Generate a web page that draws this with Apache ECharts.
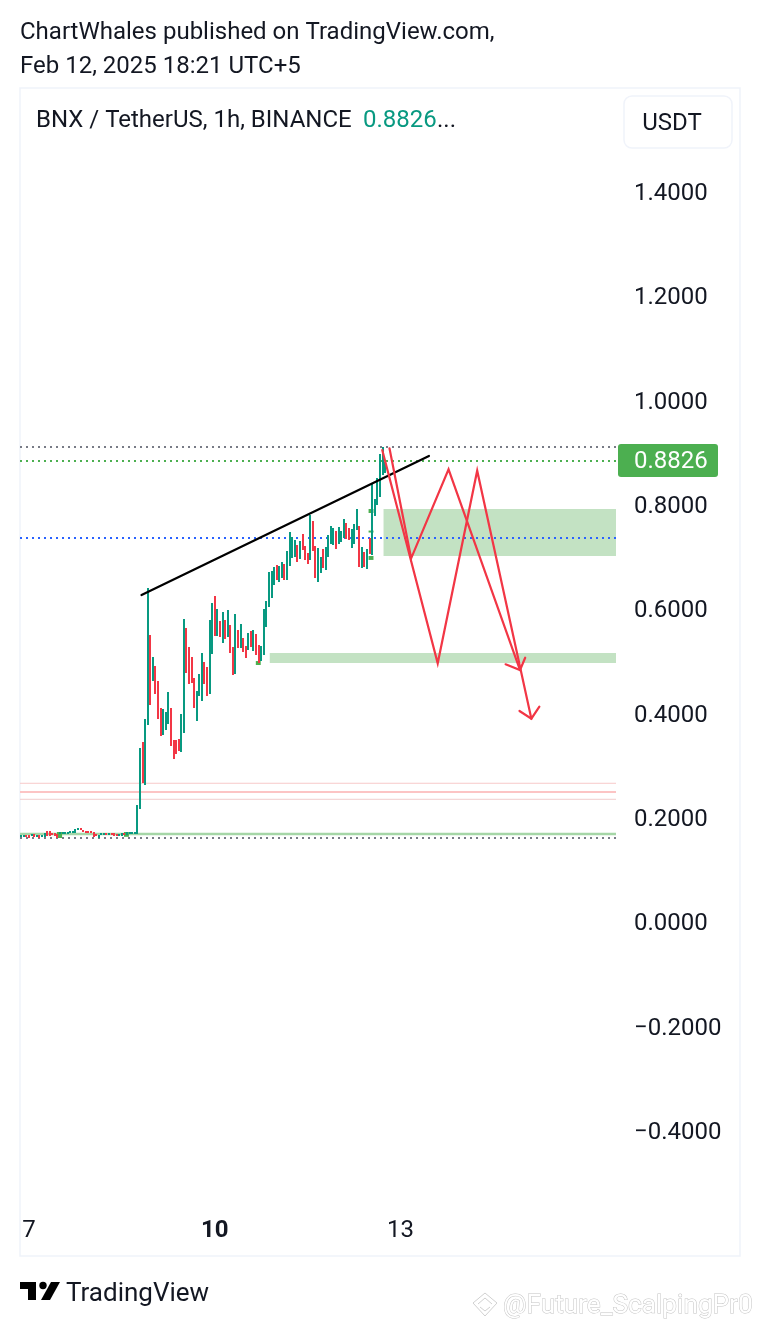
<!DOCTYPE html>
<html><head><meta charset="utf-8">
<style>html,body{margin:0;padding:0;background:#fff}#c{width:760px;height:1326px}</style>
<script src="https://cdn.jsdelivr.net/npm/echarts@6/dist/echarts.min.js"></script>
</head><body><div id="c"></div>
<script>
const barSlots = 231;
const xTickLabels = {3:'7', 75:'10', 147:'13'};
const boldTicks = ['10'];
const opens = [
.1637,.1637,.1675,.1675,.1656,.1694,.1637,.1675,.1656,.1637,
.1752,.1752,.1713,.1713,.1694,.1694,.1694,.1694,.1694,.1713,
.1713,.1713,.1771,.1809,.1771,.1752,.1752,.1752,.1732,.1694,
.1617,.1675,.1675,.1713,.1675,.1713,.1713,.1694,.1656,.1656,
.1713,.1675,.1694,.1694,.1694,.1694,.2173,.3457,.2633,.3770,
.5508,.4613,.4914,.4626,.4108,.3591,.3687,.3802,.4108,.3495,
.3495,.3514,.3265,.3629,.5642,.5278,.5086,.4684,.3859,.4339,
.4243,.4990,.4894,.4377,.5144,.6256,.5489,.5776,.5355,.5795,
.5470,.5700,.5278,.4760,.5604,.5259,.5450,.5297,.5220,.5585,
.5201,.5527,.5316,.5010,.5125,.5661,.6045,.6217,.6466,.6850,
.6524,.6601,.6869,.6562,.6831,.6984,.7003,.7233,.6965,.7444,
.7214,.7080,.6946,.7693,.7214,.6524,.6696,.7156,.6754,.7003,
.7252,.7233,.7502,.7252,.7291,.7367,.7655,.7559,.7176,.7252,
.7521,.7597,.6792,.7099,.6773,.7367,.7042,.7789,.8000,.8153,
.8575,.8614];
const closes = [
.1675,.1675,.1637,.1617,.1694,.1637,.1675,.1617,.1675,.1713,
.1656,.1656,.1675,.1656,.1617,.1732,.1732,.1732,.1732,.1752,
.1752,.1790,.1809,.1771,.1732,.1713,.1713,.1713,.1637,.1656,
.1675,.1713,.1713,.1675,.1713,.1675,.1656,.1656,.1694,.1713,
.1675,.1732,.1732,.1732,.1732,.2250,.3342,.2672,.3898,.6403,
.4166,.5080,.4377,.3898,.3572,.4089,.4032,.4415,.3380,.3131,
.3227,.3284,.3994,.5815,.4779,.4569,.4588,.4108,.4434,.4760,
.5163,.4569,.4339,.5795,.6121,.5489,.6006,.5470,.5949,.5431,
.5987,.5163,.4741,.5910,.5259,.5719,.5182,.5067,.5546,.5278,
.5604,.5125,.4965,.5297,.6006,.6160,.6716,.6735,.6811,.6562,
.6831,.6907,.6562,.7118,.7482,.7387,.7329,.6907,.7310,.7137,
.6946,.6869,.7808,.7118,.6601,.7176,.7003,.6792,.7195,.7425,
.7597,.7559,.7156,.7578,.7502,.7732,.7348,.7329,.7540,.7636,
.7923,.6811,.7195,.6811,.7156,.7061,.8422,.8115,.8518,.8978,
.9112,.8826];
const trendLine = [[47.1,.6275],[158.5,.8939]];
const redPathA = [[140.4,.9054],[161.9,.4966],[177.2,.8658],[198.2,.3904]];
const redHeadA = [[193.6,.4052],[198.2,.3904],[201.3,.4134]];
const redPathB = [[143.2,.9087],[151.6,.6978],[166.1,.8684],[193.8,.4837]];
const redHeadB = [[188.2,.4947],[193.8,.4837],[195.8,.5073]];
const zones = [[140.9,231,.7923,.7023],[96.8,231,.5163,.4972]];
const markers = [[14.3,16.3,.1732,.1617],[40.3,42.2,.1732,.1640],[91.4,93.3,.5009,.4933],[135.1,137,.7023,.6947],[135.1,137,.7923,.7847],[135.1,137,.7510,.7472]];
const dottedLevels = [[.9114,'#787b86'],[.8844,'#4caf50'],[.7368,'#2962ff'],[.1618,'#787b86']];
const solidLevels = [[.2666,'#f7c9c9',1],[.2499,'#fcc4c4',2],[.2359,'#f0cccc',1],[.1694,'#a5d6a7',2.5]];

const ink='#131722', up='#089981', down='#f23645', F='Roboto';
const categories = Array.from({length:barSlots},(_,i)=>String(i));
const candleRows = opens.map((o,i)=>[i,o,closes[i]]);
const lineSeries=(data,color,w,type)=>({type:'line',xAxisIndex:1,yAxisIndex:0,data,symbol:'none',silent:true,animation:false,
  lineStyle:{color,width:w,type:type||'solid',cap:'round',join:'miter'},z:5});
const levelLine=(p,color,w,type)=>({type:'line',xAxisIndex:1,yAxisIndex:0,data:[[0,p],[barSlots,p]],symbol:'none',silent:true,animation:false,
  lineStyle:{color,width:w,type:type||'solid'},z:2});
const chart=echarts.init(document.getElementById('c'),null,{renderer:'canvas'});
chart.setOption({
 animation:false,
 textStyle:{fontFamily:F},
 grid:{left:20,width:596,top:87.66,height:1147.7,containLabel:false},
 xAxis:[{type:'category',data:categories,offset:-16,
   axisLine:{show:false},axisTick:{show:false},splitLine:{show:false},
   axisLabel:{interval:(i)=>xTickLabels[i]!==undefined,margin:0,hideOverlap:false,showMinLabel:true,showMaxLabel:true,
     formatter:(v)=>{const t=xTickLabels[v]||'';if(!t)return '';return (boldTicks.includes(t)?'{b|':'{n|')+t+'}';},
     fontSize:24,color:ink,fontFamily:F,rich:{b:{fontWeight:'bold',fontSize:24,color:ink,fontFamily:F},n:{fontSize:24,color:ink,fontFamily:F}}}},
  {type:'value',min:0,max:barSlots,show:false}],
 yAxis:{type:'value',position:'right',min:-0.6,max:1.6,interval:0.2,scale:false,
   axisLine:{show:false},axisTick:{show:false},splitLine:{show:false},
   axisLabel:{showMinLabel:false,showMaxLabel:false,margin:18,fontSize:24,color:ink,fontFamily:F,
     formatter:(v)=>'{a|'+v.toFixed(4).replace('-','\u2212')+'}',
     rich:{a:{fontSize:24,color:ink,fontFamily:F,padding:[4,0,0,0]}}}},
 series:[
  ...solidLevels.map(l=>levelLine(l[0],l[1],l[2])),
  ...dottedLevels.map(l=>levelLine(l[0],l[1],2,[2,4])),
  {type:'custom',xAxisIndex:1,yAxisIndex:0,silent:true,z:1,data:zones,encode:{x:[0,1],y:[2,3]},
   renderItem:(p,api)=>{const a=api.coord([api.value(0),api.value(2)]),b=api.coord([api.value(1),api.value(3)]);
     return {type:'rect',shape:{x:a[0],y:a[1],width:b[0]-a[0],height:b[1]-a[1]},style:{fill:'#c3e2c3'}};}},
  {type:'custom',xAxisIndex:1,yAxisIndex:0,silent:true,z:3,data:markers,encode:{x:[0,1],y:[2,3]},
   renderItem:(p,api)=>{const a=api.coord([api.value(0),api.value(2)]),b=api.coord([api.value(1),api.value(3)]);
     return {type:'rect',shape:{x:a[0],y:a[1],width:b[0]-a[0],height:b[1]-a[1]},style:{fill:'#4caf50'}};}},
  {type:'custom',name:'BNX/USDT',xAxisIndex:0,yAxisIndex:0,silent:true,z:4,data:candleRows,encode:{x:0,y:[1,2]},
   renderItem:(p,api)=>{const o=api.value(1),c=api.value(2),a=api.coord([api.value(0),Math.max(o,c)]),b=api.coord([api.value(0),Math.min(o,c)]);
     return {type:'rect',shape:{x:Math.round(a[0]-1),y:Math.round(a[1]),width:2,height:Math.max(2,Math.round(b[1]-a[1]))},style:{fill:c>=o?up:down}};}},
  lineSeries(trendLine,'#000000',2.2),
  lineSeries(redPathA,down,2.2),lineSeries(redHeadA,down,2.2),
  lineSeries(redPathB,down,2.2),lineSeries(redHeadB,down,2.2)
 ],
 graphic:[
  {type:'rect',z:-1,shape:{x:20,y:88,width:720,height:1168},style:{fill:'none',stroke:'#f0f3fa',lineWidth:1.5}},
  {type:'text',x:20,y:33,style:{text:'ChartWhales published on TradingView.com,',fill:ink,font:'24px Roboto',verticalAlign:'middle'}},
  {type:'text',x:20,y:67,style:{text:'Feb 12, 2025 18:21 UTC+5',fill:ink,font:'24px Roboto',verticalAlign:'middle'}},
  {type:'text',x:36,y:121,style:{text:'BNX / TetherUS, 1h, BINANCE',fill:ink,font:'24px Roboto',verticalAlign:'middle'}},
  {type:'text',x:363,y:121,style:{text:'0.8826',fill:up,font:'24px Roboto',verticalAlign:'middle'}},
  {type:'text',x:437,y:121,style:{text:'...',fill:ink,font:'24px Roboto',verticalAlign:'middle'}},
  {type:'rect',shape:{x:624,y:96,width:108,height:52,r:8},style:{fill:'#fff',stroke:'#f0f3fa',lineWidth:1.5}},
  {type:'text',x:672,y:124,style:{text:'USDT',fill:ink,font:'24px Roboto',align:'center',verticalAlign:'middle'}},
  {type:'rect',shape:{x:618,y:444,width:100,height:33,r:3},style:{fill:'#4caf50'}},
  {type:'text',x:634,y:462,style:{text:'0.8826',fill:'#fff',font:'24px Roboto',verticalAlign:'middle'}},
  {type:'polygon',shape:{points:[[20,1282],[36,1282],[36,1300],[28,1300],[28,1289],[20,1289]]},style:{fill:'#000'}},
  {type:'circle',shape:{cx:43,cy:1285.5,r:3.7},style:{fill:'#000'}},
  {type:'polygon',shape:{points:[[51,1282],[60,1282],[50,1300],[41,1300]]},style:{fill:'#000'}},
  {type:'text',x:66,y:1294,style:{text:'TradingView',fill:ink,font:'26px Roboto',verticalAlign:'middle'}},
  {type:'text',x:503,y:1306,style:{text:'@Future_ScalpingPr0',fill:'#fff',stroke:'#c4c4c4',lineWidth:1,font:'26.2px Roboto',verticalAlign:'middle'}},
  {type:'polyline',shape:{points:[[473,1303],[485,1293],[497,1303],[485,1316],[473,1303]]},style:{fill:'none',stroke:'#d0d0d0',lineWidth:1}},
  {type:'polyline',shape:{points:[[478,1304],[485,1298],[492,1304]]},style:{fill:'none',stroke:'#d0d0d0',lineWidth:1}},
  {type:'polyline',shape:{points:[[480,1307],[485,1311],[490,1307]]},style:{fill:'none',stroke:'#d0d0d0',lineWidth:1}}
 ]
});
</script></body></html>
